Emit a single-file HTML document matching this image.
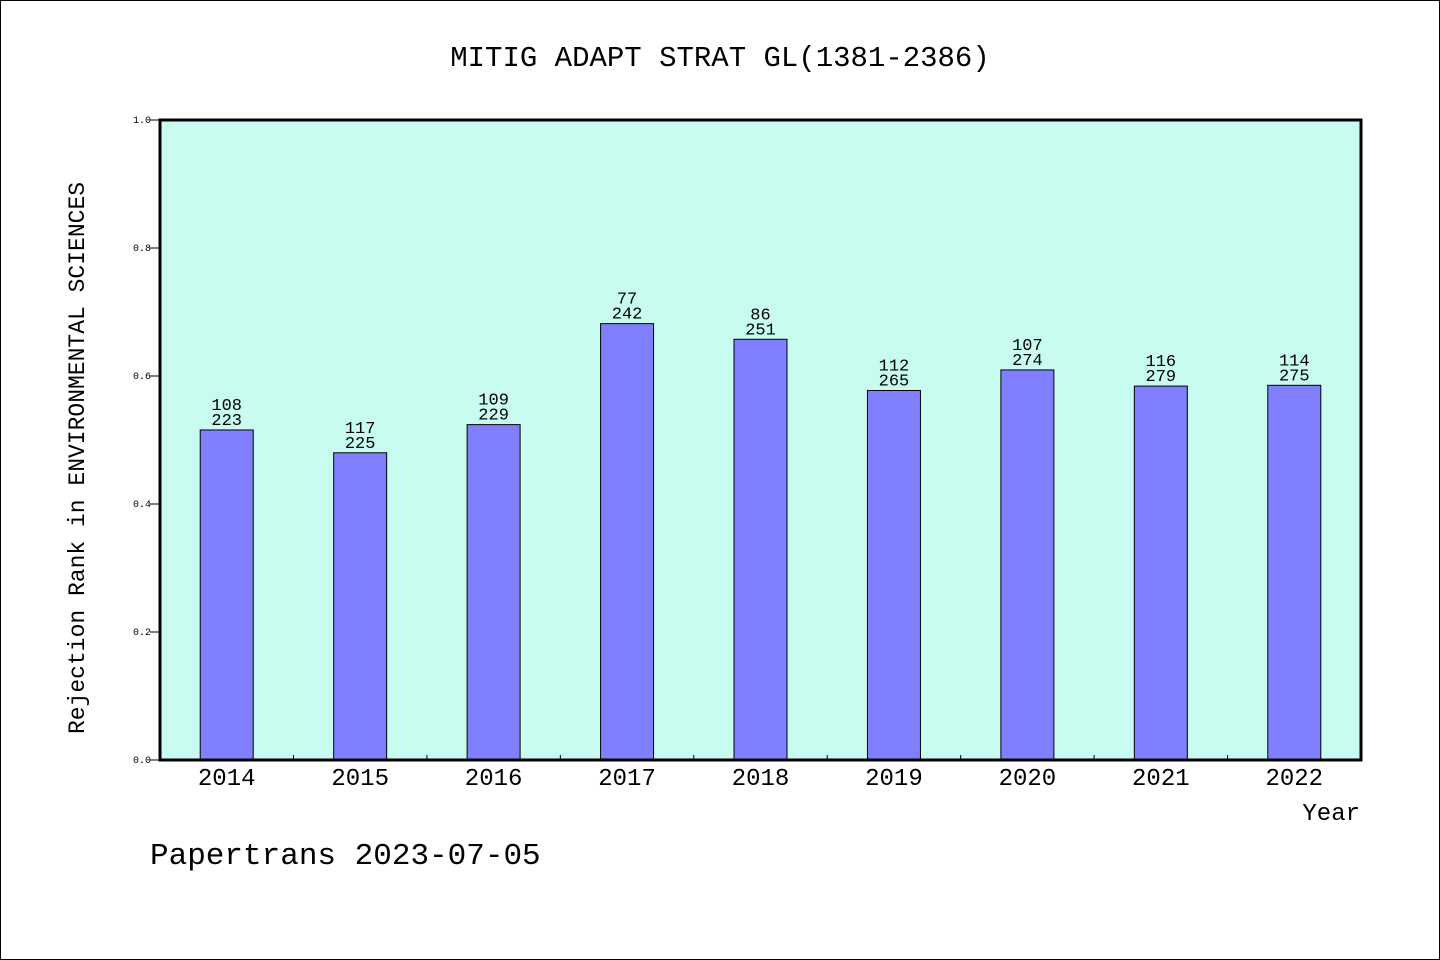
<!DOCTYPE html>
<html><head><meta charset="utf-8"><style>
html,body{margin:0;padding:0;background:#fff;}
svg{display:block;font-family:"Liberation Mono","WenQuanYi Zen Hei",monospace;}
</style></head><body>
<svg id="chart" width="1440" height="960" viewBox="0 0 1440 960">
<rect x="0.5" y="0.5" width="1439" height="959" fill="#fff" stroke="#000"/>
<text x="720" y="66" text-anchor="middle" font-size="29">MITIG ADAPT STRAT GL(1381-2386)</text>
<rect x="160" y="120" width="1201" height="640" fill="#c8fcf0"/>
<g id="bars"></g>
<g id="axes"></g>
<rect x="160" y="120" width="1201" height="640" fill="none" stroke="#000" stroke-width="3"/>
<text transform="translate(84,458) rotate(-90)" text-anchor="middle" font-size="23">Rejection Rank in ENVIRONMENTAL SCIENCES</text>
<text x="1360" y="820" text-anchor="end" font-size="24">Year</text>
<text x="150" y="864" font-size="31">Papertrans 2023-07-05</text>
</svg>
<script>
const years = ["2014","2015","2016","2017","2018","2019","2020","2021","2022"];
const ranks = [108,117,109,77,86,112,107,116,114];
const totals = [223,225,229,242,251,265,274,279,275];
const yTicks = [0,0.2,0.4,0.6,0.8,1.0];
const NS="http://www.w3.org/2000/svg";
const X0=160,X1=1361,Y0=760,Y1=120;
const slot=(X1-X0)/years.length;
const xc=i=>X0+slot*(i+0.5);
const ys=v=>Y0-(Y0-Y1)*v;
function mk(t,a){const e=document.createElementNS(NS,t);for(const k in a)e.setAttribute(k,a[k]);return e;}
const bars=document.getElementById('bars'),axes=document.getElementById('axes');
years.forEach((y,i)=>{
  const v=1-ranks[i]/totals[i];
  const r=mk('rect',{x:xc(i)-26.5,y:ys(v),width:53,height:Y0-ys(v),fill:'#8080ff',stroke:'#000','stroke-width':1});
  
  
  bars.appendChild(r);
  const t1=mk('text',{x:xc(i),y:ys(v)-20,'text-anchor':'middle','font-size':17});
  t1.textContent=ranks[i];
  
  
  bars.appendChild(t1);
  const t2=mk('text',{x:xc(i),y:ys(v)-5,'text-anchor':'middle','font-size':17});
  t2.textContent=totals[i];
  
  
  bars.appendChild(t2);
  const xl=mk('text',{x:xc(i),y:785,'text-anchor':'middle','font-size':24});
  xl.textContent=y;
  
  
  axes.appendChild(xl);
  if(i>0){
    const tk=mk('line',{x1:X0+slot*i,x2:X0+slot*i,y1:Y0,y2:Y0-5,stroke:'#000'});
    
    
    axes.appendChild(tk);
  }
});
yTicks.forEach(v=>{
  const tk=mk('line',{x1:150,x2:X0,y1:ys(v),y2:ys(v),stroke:'#000'});
  
  
  axes.appendChild(tk);
  const l=mk('text',{x:151,y:ys(v)+3,'text-anchor':'end','font-size':10});
  l.textContent=v.toFixed(1);
  
  
  axes.appendChild(l);
});
</script>
</body></html>
